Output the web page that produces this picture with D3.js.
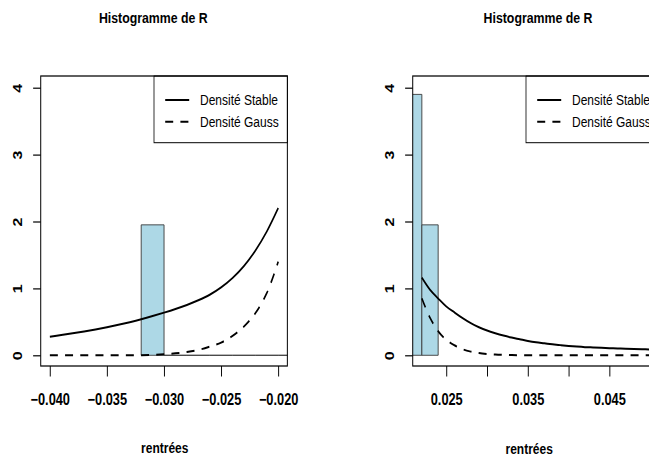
<!DOCTYPE html>
<html lang="fr">
<head>
    <meta charset="UTF-8">
    <title>Histogramme de R</title>
    <script src="https://cdn.jsdelivr.net/npm/d3@7"></script>
    <style>
        body, html {
            margin: 0;
            padding: 0;
            background: #fff;
            overflow: hidden;
        }
        svg {
            display: block;
            font-family: "Liberation Sans", Arial, Helvetica, sans-serif;
        }
    </style>
</head>
<body>
    <svg id="mainsvg"></svg>
    <script>
        // --- données ---
        const yTicks = [0, 1, 2, 3, 4];
        const yLabels = ["0", "1", "2", "3", "4"];

        // panneau gauche
        const leftBreaks = [-0.032, -0.030, -0.028, -0.026, -0.024, -0.022, -0.020, -0.018];
        const leftDensity = [1.95, 0, 0, 0, 0, 0, 0];
        const leftX = [-0.040, -0.039, -0.038, -0.037, -0.036, -0.035, -0.034, -0.033, -0.032, -0.031,
                       -0.030, -0.029, -0.028, -0.027, -0.026, -0.025, -0.024, -0.023, -0.022, -0.021, -0.020];
        const leftStable = [0.278, 0.302, 0.328, 0.356, 0.387, 0.42, 0.456, 0.495, 0.538, 0.586,
                            0.638, 0.693, 0.753, 0.822, 0.905, 1.015, 1.155, 1.335, 1.565, 1.85, 2.20];
        const leftGauss = [0, 0, 0, 0, 0, 0, 0, 0, 0, 0.005,
                           0.015, 0.03, 0.05, 0.08, 0.13, 0.19, 0.29, 0.43, 0.63, 0.93, 1.40];
        const leftXTicks = [-0.040, -0.035, -0.030, -0.025, -0.020];
        const leftXLabels = ["\u22120.040", "\u22120.035", "\u22120.030", "\u22120.025", "\u22120.020"];

        // panneau droit
        const rightBreaks = [0.020, 0.022, 0.024];
        const rightDensity = [3.9, 1.95];
        const rightX = [0.022, 0.023, 0.024, 0.025, 0.026, 0.027, 0.028, 0.029, 0.030, 0.031,
                        0.032, 0.033, 0.034, 0.035, 0.036, 0.037, 0.038, 0.039, 0.040, 0.041,
                        0.042, 0.043, 0.044, 0.045, 0.046, 0.047, 0.048, 0.049, 0.050];
        const rightStable = [1.16, 0.98, 0.85, 0.73, 0.64, 0.555, 0.48, 0.42, 0.37, 0.33,
                             0.295, 0.265, 0.24, 0.215, 0.195, 0.18, 0.165, 0.152, 0.14, 0.13,
                             0.122, 0.117, 0.112, 0.107, 0.102, 0.098, 0.094, 0.09, 0.087];
        const rightGauss = [0.85, 0.56, 0.36, 0.23, 0.15, 0.09, 0.055, 0.033, 0.02, 0.011,
                            0.006, 0.003, 0.001, 0, 0, 0, 0, 0, 0, 0,
                            0, 0, 0, 0, 0, 0, 0, 0, 0];
        const rightXTicks = [0.025, 0.030, 0.035, 0.040, 0.045, 0.050];
        const rightXLabels = ["0.025", "", "0.035", "", "0.045", ""];

        const legendLabels = ["Densité Stable", "Densité Gauss"];

        const width = 649;
        const height = 458;
        // l'image d'origine est écrasée horizontalement (~0.8)
        const squeeze = 0.8;

        const svg = d3.select("#mainsvg")
            .attr("width", width)
            .attr("height", height)
            .attr("viewBox", `0 0 ${width / squeeze} ${height}`)
            .attr("preserveAspectRatio", "none");

        const plotW = 308.3;
        const plotTop = 76, plotBottom = 366;

        function drawPanel(p) {
            const x = d3.scaleLinear().domain(p.xlim).range([p.left, p.left + plotW]);
            const y = d3.scaleLinear().domain([-0.16, 4.16]).range([plotBottom, 77]);
            const g = svg.append("g");

            svg.append("clipPath").attr("id", "clip" + p.id)
                .append("rect")
                .attr("x", p.left).attr("y", plotTop)
                .attr("width", plotW).attr("height", plotBottom - plotTop);

            const plot = g.append("g").attr("clip-path", `url(#clip${p.id})`);

            // histogramme (chemins, pour garder les classes vides visibles)
            const bins = p.density.map((d, i) => ({x0: p.breaks[i], x1: p.breaks[i + 1], d: d}));
            plot.selectAll("path.bar")
                .data(bins)
                .join("path")
                .attr("class", "bar")
                .attr("d", b => `M${x(b.x0)},${y(0)}V${y(b.d)}H${x(b.x1)}V${y(0)}Z`)
                .attr("fill", "#add8e6")
                .attr("stroke", "#3a3a3a")
                .attr("stroke-width", 1);

            const line = d3.line()
                .x(d => x(d[0]))
                .y(d => y(d[1]))
                .curve(d3.curveCatmullRom.alpha(0.5));

            plot.append("path")
                .datum(d3.zip(p.xs, p.stable))
                .attr("d", line)
                .attr("fill", "none")
                .attr("stroke", "#000")
                .attr("stroke-width", 2);

            plot.append("path")
                .datum(d3.zip(p.xs, p.gauss))
                .attr("d", line)
                .attr("fill", "none")
                .attr("stroke", "#000")
                .attr("stroke-width", 2)
                .attr("stroke-dasharray", "10,9");

            // axe x
            g.append("g")
                .attr("transform", `translate(0,${plotBottom})`)
                .call(d3.axisBottom(x).tickValues(p.xticks).tickSize(10.5)
                    .tickFormat((d, i) => p.xlabels[i]))
                .call(a => a.select(".domain").remove())
                .call(a => a.selectAll("line").attr("stroke", "#000").attr("stroke-width", 1.2))
                .call(a => a.selectAll("text")
                    .attr("y", 39).attr("dy", null)
                    .attr("fill", "#000")
                    .attr("font-size", 16).attr("font-weight", "bold")
                    .attr("font-family", null));

            // axe y (étiquettes verticales, comme R)
            g.append("g")
                .attr("transform", `translate(${p.left},0)`)
                .call(d3.axisLeft(y).tickValues(yTicks).tickSize(9.5)
                    .tickFormat((d, i) => yLabels[i]))
                .call(a => a.select(".domain").remove())
                .call(a => a.selectAll("line").attr("stroke", "#000").attr("stroke-width", 1.2))
                .call(a => a.selectAll("text")
                    .attr("x", null).attr("dy", null)
                    .attr("transform", "translate(-23,0) rotate(-90)")
                    .attr("text-anchor", "middle")
                    .attr("fill", "#000")
                    .attr("font-size", 16).attr("font-weight", "bold")
                    .attr("font-family", null));

            // légende
            const legLeft = p.left + plotW - 166.7;
            const leg = g.append("g");
            leg.append("rect")
                .attr("x", legLeft).attr("y", plotTop)
                .attr("width", p.left + plotW - legLeft).attr("height", 66.7)
                .attr("fill", "#fff").attr("stroke", "#000").attr("stroke-width", 1);
            const rows = [100, 121.7];
            leg.selectAll("line.key")
                .data(legendLabels)
                .join("line")
                .attr("class", "key")
                .attr("x1", legLeft + 14).attr("x2", legLeft + 44)
                .attr("y1", (d, i) => rows[i]).attr("y2", (d, i) => rows[i])
                .attr("stroke", "#000").attr("stroke-width", 2)
                .attr("stroke-dasharray", (d, i) => i === 1 ? "10,9" : null);
            leg.selectAll("text")
                .data(legendLabels)
                .join("text")
                .attr("x", legLeft + 57.5)
                .attr("y", (d, i) => rows[i] + 5.3)
                .attr("font-size", 15)
                .text(d => d);

            // cadre
            g.append("rect")
                .attr("x", p.left).attr("y", plotTop)
                .attr("width", plotW).attr("height", plotBottom - plotTop)
                .attr("fill", "none").attr("stroke", "#000").attr("stroke-width", 1.25);

            // titre et libellé
            g.append("text")
                .attr("x", p.titleX).attr("y", 23.3)
                .attr("text-anchor", "middle")
                .attr("font-size", 15.4).attr("font-weight", "bold")
                .text("Histogramme de R");
            g.append("text")
                .attr("x", p.xlabX).attr("y", p.xlabY)
                .attr("text-anchor", "middle")
                .attr("font-size", 15).attr("font-weight", "bold")
                .text("rentrées");
        }

        drawPanel({
            id: "L", left: 50.9, xlim: [-0.0408, -0.0192],
            breaks: leftBreaks, density: leftDensity,
            xs: leftX, stable: leftStable, gauss: leftGauss,
            xticks: leftXTicks, xlabels: leftXLabels,
            titleX: 191.6, xlabX: 206, xlabY: 453.5
        });

        drawPanel({
            id: "R", left: 515.9, xlim: [0.02088, 0.05112],
            breaks: rightBreaks, density: rightDensity,
            xs: rightX, stable: rightStable, gauss: rightGauss,
            xticks: rightXTicks, xlabels: rightXLabels,
            titleX: 672.5, xlabX: 661.5, xlabY: 454.5
        });
    </script>
</body>
</html>
